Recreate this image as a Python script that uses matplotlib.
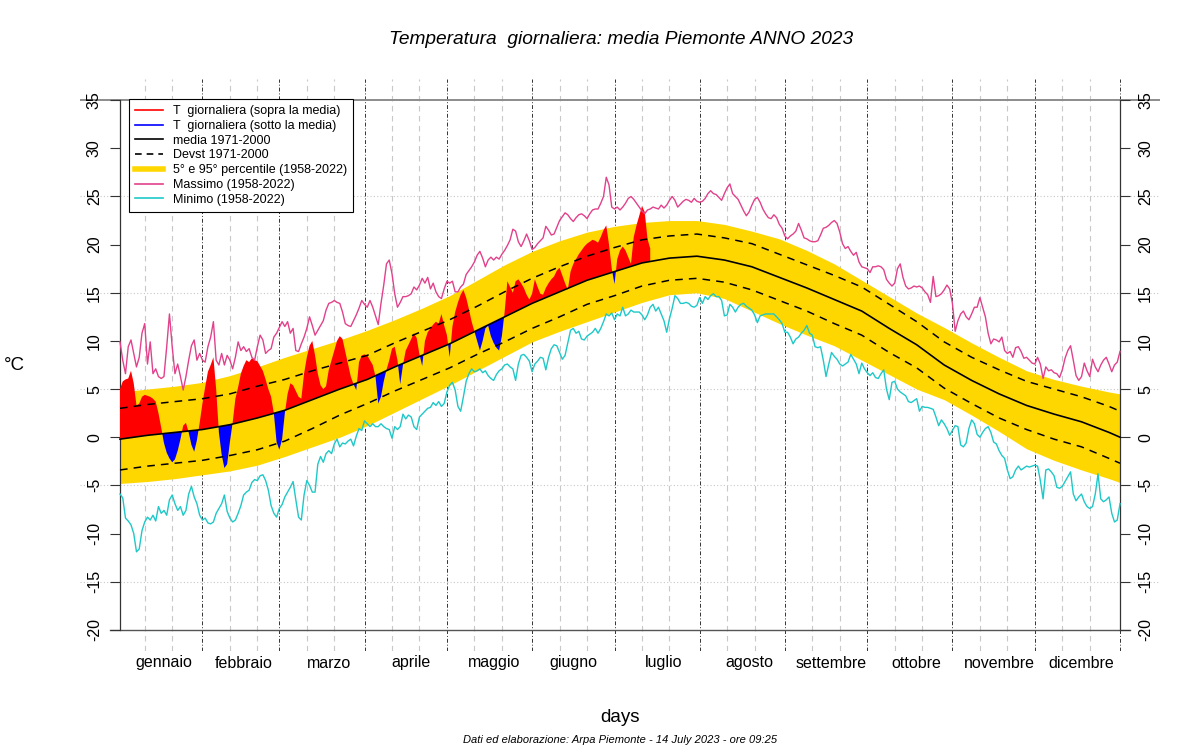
import numpy as np
import matplotlib.pyplot as plt
from matplotlib.lines import Line2D

plt.rcParams['font.family'] = ['Liberation Sans', 'DejaVu Sans']
plt.rcParams['axes.unicode_minus'] = False

# climatologia 1971-2000 / 1958-2022 (valori letti ogni 10 giorni)
clim_days = [1, 11, 21, 31, 41, 51, 61, 71, 81, 91, 101, 111, 121, 131, 141, 151, 161, 171, 181,
             191, 201, 211, 221, 231, 241, 251, 261, 271, 281, 291, 301, 311, 321, 331, 341, 351, 361, 365]
clim_mean = [-0.2, 0.2, 0.5, 0.8, 1.3, 2.0, 2.8, 3.9, 5.0, 6.0, 7.3, 8.5, 9.7, 11.1, 12.5, 13.9, 15.1, 16.3, 17.2,
             18.1, 18.6, 18.8, 18.4, 17.7, 16.6, 15.5, 14.3, 13.1, 11.3, 9.6, 7.5, 5.9, 4.5, 3.3, 2.4, 1.6, 0.5, 0.0]
clim_sd = [3.2, 3.2, 3.2, 3.2, 3.2, 3.3, 3.2, 3.0, 2.7, 2.5, 2.5, 2.5, 2.5, 2.5, 2.6, 2.6, 2.6, 2.5, 2.5,
           2.4, 2.3, 2.3, 2.3, 2.4, 2.4, 2.4, 2.5, 2.5, 2.5, 2.4, 2.4, 2.4, 2.5, 2.5, 2.6, 2.6, 2.7, 2.7]
clim_p5 = [-4.8, -4.6, -4.3, -3.9, -3.5, -2.9, -2.0, -1.0, 0.0, 1.2, 2.6, 4.0, 5.4, 6.9, 8.4, 9.9, 11.0, 12.0, 13.0,
           14.0, 14.8, 15.0, 14.4, 13.1, 11.8, 10.6, 9.5, 8.0, 6.5, 5.0, 3.9, 2.3, 0.6, -1.2, -2.4, -3.4, -4.3, -4.7]
clim_p95 = [4.7, 5.0, 5.3, 5.7, 6.4, 7.3, 8.3, 9.2, 10.1, 11.1, 12.2, 13.4, 14.7, 16.3, 17.9, 19.3, 20.4, 21.3, 21.9,
            22.3, 22.5, 22.5, 22.1, 21.4, 20.6, 19.4, 18.0, 16.3, 14.6, 12.9, 11.4, 9.8, 8.3, 6.9, 6.0, 5.3, 4.7, 4.5]

# massimo giornaliero 1958-2022
tmax = [9.9, 8.0, 6.6, 9.4, 10.1, 8.7, 7.3, 8.3, 10.8, 11.8,
        7.6, 9.9, 6.6, 7.1, 6.3, 6.1, 6.3, 9.4, 12.8, 9.4,
        6.6, 7.6, 6.3, 4.9, 6.3, 8.0, 9.5, 10.1, 8.0, 8.7,
        8.0, 7.8, 9.4, 10.4, 12.0, 8.0, 7.5, 8.7, 7.5, 8.5,
        8.0, 7.1, 8.3, 9.9, 9.0, 9.4, 8.9, 9.2, 8.3, 8.0,
        9.4, 10.6, 10.1, 8.7, 9.0, 9.2, 10.4, 10.8, 11.4, 12.0,
        11.5, 12.0, 10.8, 11.3, 9.0, 8.9, 9.7, 10.4, 11.3, 12.5,
        11.6, 10.6, 11.1, 11.6, 12.1, 13.2, 13.9, 14.0, 14.2, 14.0,
        13.9, 13.0, 11.8, 11.6, 11.5, 12.1, 12.7, 13.4, 14.2, 13.8,
        13.5, 14.2, 13.5, 12.6, 11.7, 13.9, 15.8, 18.0, 18.4, 17.0,
        14.9, 13.5, 14.0, 14.6, 14.6, 14.7, 14.9, 15.6, 15.3, 15.8,
        16.5, 16.0, 16.6, 15.4, 16.0, 15.1, 14.6, 14.4, 15.4, 16.2,
        16.0, 16.2, 15.1, 15.1, 15.6, 15.9, 16.9, 17.3, 17.7, 18.2,
        18.9, 19.3, 18.6, 17.7, 18.4, 18.7, 18.4, 18.7, 18.5, 19.0,
        19.4, 19.9, 20.5, 21.6, 21.4, 20.3, 19.8, 20.4, 21.1, 20.4,
        19.5, 19.7, 20.1, 20.4, 20.7, 21.9, 21.5, 21.0, 21.1, 21.8,
        22.5, 22.9, 23.3, 23.1, 22.7, 22.4, 22.8, 23.1, 23.2, 23.0,
        22.7, 23.2, 23.6, 23.7, 23.7, 24.3, 25.0, 27.0, 26.2, 23.9,
        23.7, 23.9, 23.6, 23.9, 24.3, 24.8, 25.0, 24.7, 24.3, 23.9,
        23.5, 23.2, 23.6, 23.7, 23.9, 23.8, 23.7, 24.1, 23.8, 24.1,
        24.6, 25.0, 24.6, 23.9, 24.2, 24.5, 24.7, 24.6, 24.4, 24.8,
        24.5, 24.4, 24.5, 24.8, 25.3, 25.6, 25.3, 25.2, 24.9, 24.6,
        25.3, 25.9, 26.3, 25.3, 25.0, 24.7, 24.1, 23.5, 23.0, 23.4,
        24.1, 24.7, 24.9, 24.4, 23.7, 23.2, 22.8, 22.7, 23.1, 22.8,
        22.1, 21.7, 20.9, 20.6, 20.9, 21.1, 21.4, 22.2, 21.5, 20.7,
        20.6, 20.4, 20.3, 20.3, 20.4, 21.0, 21.7, 21.8, 22.0, 22.3,
        22.5, 22.2, 21.3, 20.1, 19.6, 19.8, 19.3, 18.9, 19.2, 18.2,
        17.7, 17.6, 17.5, 17.1, 17.7, 17.7, 17.8, 17.7, 17.4, 16.4,
        16.0, 15.7, 16.0, 17.5, 18.0, 16.6, 15.7, 15.4, 15.5, 15.7,
        15.6, 15.7, 15.5, 15.1, 14.8, 14.0, 16.7, 14.6, 14.7, 14.9,
        15.3, 15.8, 15.4, 13.9, 11.0, 12.1, 12.8, 13.1, 12.5, 12.2,
        12.8, 13.5, 13.5, 14.5, 13.5, 12.5, 10.8, 9.7, 10.2, 10.1,
        9.9, 10.4, 9.0, 8.7, 8.9, 8.3, 9.3, 9.4, 8.9, 8.2,
        8.3, 8.0, 7.7, 7.6, 8.3, 7.6, 6.1, 7.3, 6.9, 7.0,
        6.7, 6.6, 6.2, 7.0, 8.2, 9.0, 9.5, 8.0, 6.4, 5.9,
        6.3, 7.7, 6.9, 6.3, 8.1, 7.3, 6.8, 7.5, 8.0, 8.3,
        7.6, 6.8, 7.5, 7.8, 8.9]

# minimo giornaliero 1958-2022
tmin = [-5.9, -6.3, -8.4, -8.7, -9.1, -10.0, -11.9, -11.6, -9.7, -8.8,
        -8.3, -8.6, -8.1, -8.7, -7.2, -7.9, -7.6, -8.1, -6.5, -6.0,
        -6.9, -7.6, -7.2, -8.1, -7.6, -5.9, -5.1, -6.2, -6.9, -8.1,
        -8.6, -8.4, -8.9, -9.0, -8.8, -7.9, -7.4, -6.9, -6.0, -7.7,
        -8.4, -8.8, -8.6, -7.9, -7.1, -6.0, -5.7, -5.5, -4.7, -4.4,
        -4.5, -4.0, -3.9, -4.5, -5.5, -7.1, -7.9, -8.3, -7.4, -7.0,
        -6.2, -5.7, -5.2, -4.6, -6.5, -8.3, -8.6, -6.0, -4.5, -5.0,
        -5.7, -5.7, -2.8, -2.0, -2.6, -1.7, -1.4, -1.7, -0.7, -0.2,
        -1.0, -0.6, -0.7, -0.4, -0.2, -0.9, 0.1, 0.9, 0.7, 1.7,
        1.4, 1.1, 1.4, 1.1, 1.1, 1.4, 1.1, 0.9, 0.8, -0.1,
        1.1, 0.8, 1.1, 2.4, 1.9, 2.3, 2.1, 1.1, 0.8, 2.1,
        2.4, 2.7, 3.0, 3.1, 3.6, 3.3, 3.7, 3.2, 3.5, 4.7,
        5.4, 5.7, 4.9, 3.2, 2.7, 4.2, 5.8, 6.6, 7.1, 6.8,
        6.9, 7.1, 6.7, 6.9, 6.4, 6.1, 5.9, 6.5, 6.9, 7.1,
        7.5, 7.6, 7.3, 7.1, 5.9, 7.6, 8.5, 8.6, 8.3, 7.9,
        6.8, 7.6, 7.9, 8.3, 8.2, 7.0, 8.3, 9.2, 9.6, 9.5,
        8.8, 8.1, 8.5, 9.8, 11.1, 11.3, 10.8, 11.0, 10.2, 10.1,
        10.5, 10.7, 10.9, 11.3, 10.8, 11.3, 12.0, 12.8, 12.6, 12.9,
        12.2, 12.8, 12.6, 13.5, 12.6, 12.8, 13.2, 13.0, 13.0, 13.0,
        12.7, 12.2, 12.7, 13.5, 13.8, 13.1, 13.5, 12.8, 12.1, 10.9,
        12.3, 13.4, 14.7, 14.4, 13.9, 13.9, 14.0, 13.9, 13.6, 13.5,
        13.7, 14.5, 13.9, 14.6, 14.3, 14.7, 14.9, 14.6, 14.6, 14.2,
        12.6, 12.7, 13.8, 13.5, 13.0, 13.5, 13.8, 13.9, 13.6, 13.4,
        13.2, 12.7, 11.9, 12.6, 12.7, 12.8, 12.8, 12.8, 12.8, 12.5,
        12.2, 11.8, 10.9, 10.9, 10.4, 9.7, 10.2, 10.4, 10.8, 11.1,
        11.6, 10.8, 10.6, 9.4, 9.3, 9.4, 8.0, 6.3, 7.6, 8.8,
        8.4, 8.1, 7.6, 7.4, 7.6, 7.8, 8.6, 8.1, 7.6, 6.6,
        7.7, 7.1, 6.7, 6.4, 6.7, 6.2, 6.1, 6.6, 7.0, 5.0,
        3.9, 5.7, 5.8, 5.0, 4.7, 4.5, 4.3, 3.7, 3.6, 3.8,
        4.0, 2.7, 3.2, 3.1, 3.1, 3.0, 2.9, 2.1, 1.2, 1.8,
        1.4, 0.9, 0.2, 0.7, 1.2, 1.1, -0.8, -1.0, -0.6, 0.9,
        1.8, 1.4, 0.3, 0.0, 0.5, 0.9, 1.1, 0.5, -0.5, -0.7,
        -1.4, -1.9, -2.2, -3.4, -4.3, -4.1, -3.4, -3.0, -3.4, -3.2,
        -3.0, -3.1, -3.0, -2.9, -3.0, -4.5, -6.4, -3.4, -3.3, -3.6,
        -4.0, -5.2, -5.3, -5.1, -4.6, -4.1, -3.6, -5.9, -6.6, -6.2,
        -5.9, -6.7, -7.2, -7.4, -7.2, -5.9, -3.8, -6.4, -6.7, -6.5,
        -6.2, -7.9, -8.8, -8.6, -6.9]

# temperatura media giornaliera 2023 (1 gen - 13 lug)
t2023 = [5.0, 5.8, 6.0, 6.1, 6.9, 5.6, 3.3, 3.5, 4.2, 4.4,
         4.3, 4.2, 4.0, 3.7, 2.5, 1.0, -0.6, -1.6, -2.2, -2.6,
         -2.3, -1.4, -0.2, 1.2, 1.5, 0.5, -0.8, -1.5, -0.3, 1.5,
         3.5, 5.2, 6.8, 7.5, 8.3, 5.0, 0.5, -1.8, -3.2, -2.8,
         -0.5, 1.5, 4.0, 5.2, 6.6, 7.4, 8.0, 7.8, 8.2, 8.0,
         7.9, 7.4, 6.9, 6.0, 5.0, 4.2, 2.5, -0.5, -1.3, -0.2,
         2.5, 4.5, 5.6, 5.4, 4.8, 4.2, 4.0, 6.6, 8.3, 9.5,
         10.0, 8.5, 6.6, 5.4, 5.0, 5.3, 7.0, 8.0, 9.0, 10.0,
         10.5, 10.2, 8.9, 7.6, 6.3, 5.5, 4.9, 7.8, 8.5, 8.6,
         8.5, 8.0, 7.5, 6.3, 3.5, 4.2, 5.8, 7.0, 8.0, 9.2,
         9.4, 8.0, 5.5, 7.5, 9.0, 9.6, 10.2, 10.8, 10.3, 8.6,
         7.4, 10.0, 10.9, 11.3, 11.7, 12.0, 11.8, 12.8, 11.6, 10.6,
         8.3, 11.5, 13.0, 14.0, 14.8, 15.3, 14.5, 13.3, 12.0, 11.0,
         10.0, 9.0, 10.0, 11.3, 11.6, 10.5, 9.8, 9.3, 9.0, 10.5,
         13.0, 16.2, 15.6, 15.0, 16.2, 16.4, 16.0, 15.5, 14.8, 14.3,
         14.9, 16.4, 15.6, 14.9, 14.8, 15.5, 16.0, 16.4, 16.7, 17.3,
         17.6, 16.8, 16.0, 15.3, 17.2, 18.0, 18.5, 19.0, 19.4, 19.8,
         20.1, 20.3, 20.5, 20.4, 20.2, 20.8, 21.5, 22.0, 20.0, 17.5,
         15.9, 18.5, 19.4, 19.8, 19.4, 18.7, 18.0, 20.8, 22.0, 23.0,
         24.0, 23.4, 20.6, 19.6]

mesi = ['gennaio', 'febbraio', 'marzo', 'aprile', 'maggio', 'giugno',
        'luglio', 'agosto', 'settembre', 'ottobre', 'novembre', 'dicembre']
inizio_mese = [1, 32, 60, 91, 121, 152, 182, 213, 244, 274, 305, 335]
fine_mese = [31, 59, 90, 120, 151, 181, 212, 243, 273, 304, 334, 365]
pos_etichette = [17, 46, 77, 107, 137, 166, 199, 230, 260, 291, 321, 351]

col_max = '#E2418B'
col_min = '#1EC8C8'
col_band = '#FFD700'

fig = plt.figure(figsize=(12, 7.5), dpi=100)
ax = fig.add_axes([80 / 1200, 99 / 750, 1080 / 1200, 572 / 750])
ax.set_xlim(-13.56, 379.56)
ax.set_ylim(-22.2, 37.2)

# griglia
for y in [25, 15, 5, -5, -15]:
    ax.axhline(y, color='#C8C8C8', lw=0.8, ls=(0, (1, 2)), zorder=0)
ax.axhline(35, color='#8C8C8C', lw=1.4, zorder=1)
for s in inizio_mese:
    for k in (9, 19):
        ax.axvline(s + k, color='#C8C8C8', lw=0.8, ls=(0, (5, 4)), zorder=0)
for d in fine_mese:
    ax.axvline(d, color='#333333', lw=0.7, ls=(0, (4, 2, 1, 2)), zorder=0.5)
ax.plot([-2.6, 368.6], [-20, -20], color='#555555', lw=1.0, clip_on=False, zorder=1)

# percentili
ax.fill_between(clim_days, clim_p5, clim_p95, color=col_band, lw=0, zorder=2)

# anno 2023
giorni23 = np.arange(1, len(t2023) + 1)
t23 = np.array(t2023)
base = np.interp(giorni23, clim_days, clim_mean)
ax.fill_between(giorni23, base, t23, where=t23 >= base, interpolate=True, color='#FF0000', lw=0, zorder=3)
ax.fill_between(giorni23, base, t23, where=t23 < base, interpolate=True, color='#0000FF', lw=0, zorder=3)

# media e deviazione standard
ax.plot(clim_days, clim_mean, color='black', lw=1.2, zorder=5)
ax.plot(clim_days, np.add(clim_mean, clim_sd), color='black', lw=1.1, ls=(0, (5, 4)), zorder=5)
ax.plot(clim_days, np.subtract(clim_mean, clim_sd), color='black', lw=1.1, ls=(0, (5, 4)), zorder=5)

# estremi
ax.plot(np.arange(1, len(tmax) + 1), tmax, color=col_max, lw=1.0, zorder=4)
ax.plot(np.arange(1, len(tmin) + 1), tmin, color=col_min, lw=1.0, zorder=4)

# assi
for s in ['top', 'bottom']:
    ax.spines[s].set_visible(False)
ax.spines['left'].set_position(('data', 1))
ax.spines['right'].set_position(('data', 365))
for s in ['left', 'right']:
    ax.spines[s].set_bounds(-20, 35)
    ax.spines[s].set_color('#333333')
    ax.spines[s].set_linewidth(0.9)
ax.set_yticks(np.arange(-20, 36, 5))
ax.yaxis.set_ticks_position('both')
ax.tick_params(axis='y', direction='out', length=7, width=0.8, color='#333333',
               labelsize=11.5, labelleft=True, labelright=True, labelrotation=90, pad=6)
for lab in ax.get_yticklabels():
    lab.set_va('center')
ax.set_xticks([])

for p, m in zip(pos_etichette, mesi):
    ax.text(p, -12 / 572, m, transform=ax.get_xaxis_transform(), ha='center', va='center', fontsize=11.5)

fig.text(621 / 1200, 1 - 40 / 750, 'Temperatura  giornaliera: media Piemonte ANNO 2023',
         ha='center', va='center', fontsize=13.8, style='italic')
fig.text(620 / 1200, 1 - 718 / 750, 'days', ha='center', va='center', fontsize=13.5)
fig.text(620 / 1200, 1 - 740 / 750, 'Dati ed elaborazione: Arpa Piemonte - 14 July 2023 - ore 09:25',
         ha='center', va='center', fontsize=8, style='italic')
fig.text(14 / 1200, 1 - 365 / 750, '°C', ha='center', va='center', fontsize=13.5)

handles = [Line2D([], [], color='#FF0000', lw=1.2),
           Line2D([], [], color='#0000FF', lw=1.2),
           Line2D([], [], color='black', lw=1.2),
           Line2D([], [], color='black', lw=1.2, ls=(0, (4, 3))),
           Line2D([], [], color=col_band, lw=4),
           Line2D([], [], color=col_max, lw=1.2),
           Line2D([], [], color=col_min, lw=1.2)]
labels = ['T  giornaliera (sopra la media)', 'T  giornaliera (sotto la media)', 'media 1971-2000',
          'Devst 1971-2000', '5° e 95° percentile (1958-2022)', 'Massimo (1958-2022)', 'Minimo (1958-2022)']
leg = ax.legend(handles, labels, loc='upper left', bbox_to_anchor=(129 / 1200, 1 - 99 / 750),
                bbox_transform=fig.transFigure, fontsize=9, frameon=True, fancybox=False,
                edgecolor='black', framealpha=1, borderpad=0.5, labelspacing=0.22,
                handlelength=2.2, handletextpad=0.8, borderaxespad=0)
leg.get_frame().set_linewidth(0.8)
leg.set_zorder(10)

fig.savefig('out.png', dpi=100)
